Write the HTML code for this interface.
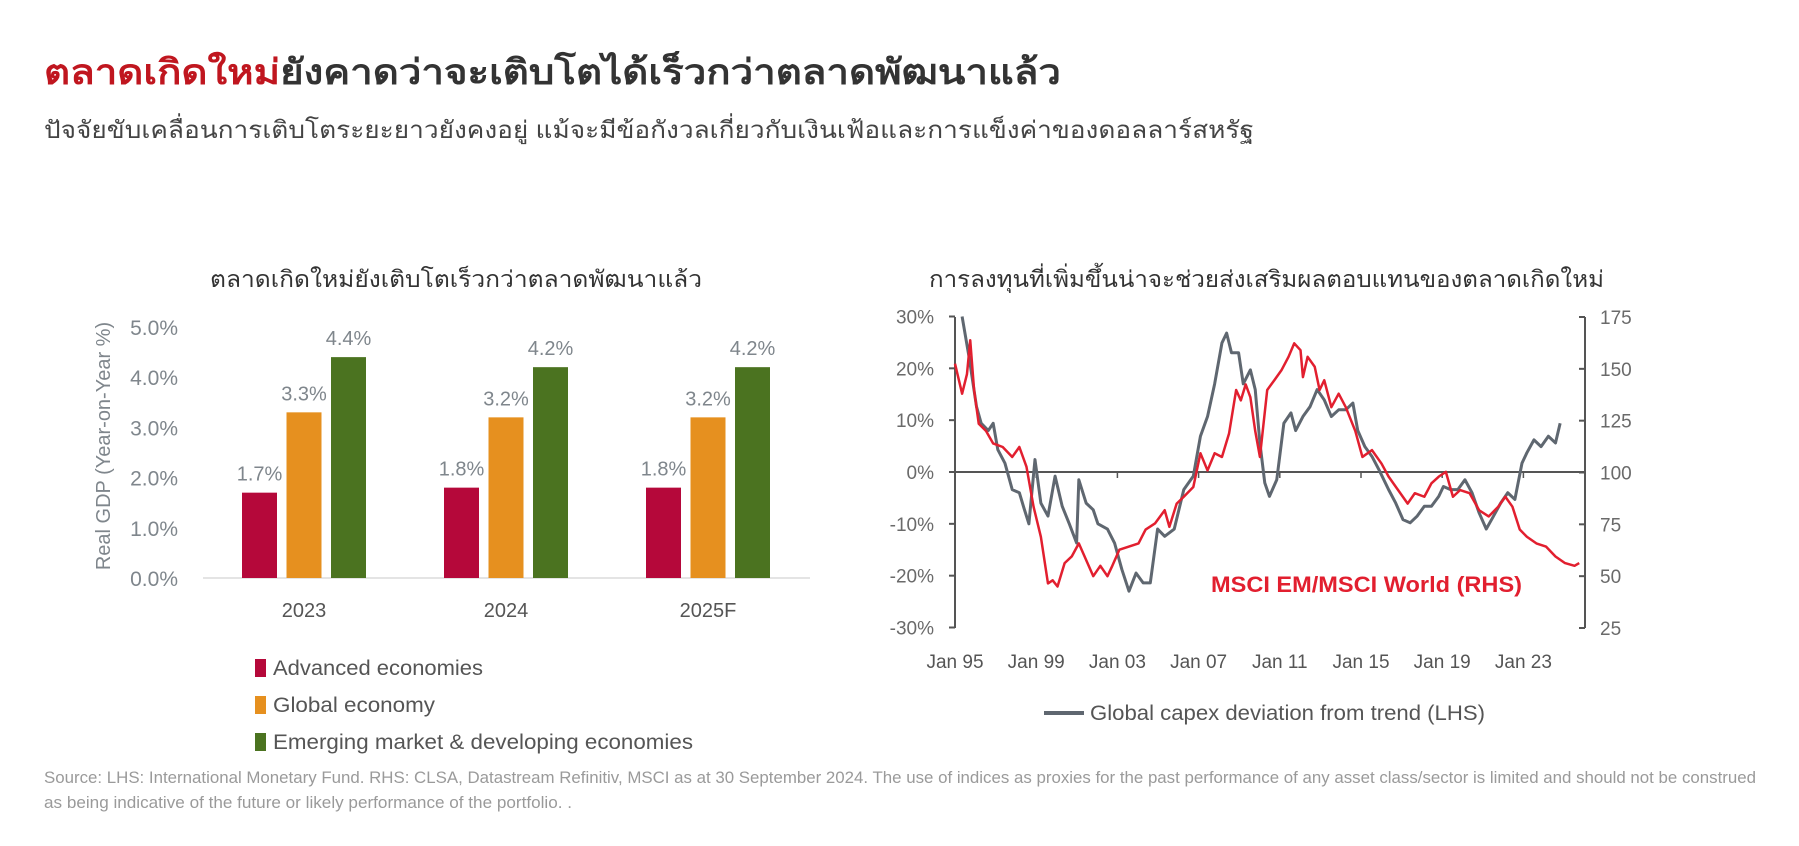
<!DOCTYPE html>
<html><head><meta charset="utf-8"><style>
html,body{margin:0;padding:0;background:#fff;}
svg{display:block;font-family:"Liberation Sans","DejaVu Sans","Noto Sans CJK SC",sans-serif;}
</style></head><body>
<svg id="root" width="1799" height="846" viewBox="0 0 1799 846" xmlns="http://www.w3.org/2000/svg">
<text x="44" y="84" font-size="35" font-weight="bold" fill="#333" textLength="1017" lengthAdjust="spacingAndGlyphs"><tspan fill="#c0161f">ตลาดเกิดใหม่</tspan>ยังคาดว่าจะเติบโตได้เร็วกว่าตลาดพัฒนาแล้ว</text>
<text x="44" y="138" font-size="24" fill="#444" textLength="1210" lengthAdjust="spacingAndGlyphs">ปัจจัยขับเคลื่อนการเติบโตระยะยาวยังคงอยู่ แม้จะมีข้อกังวลเกี่ยวกับเงินเฟ้อและการแข็งค่าของดอลลาร์สหรัฐ</text>
<text x="210" y="287" font-size="23" fill="#333" textLength="492" lengthAdjust="spacingAndGlyphs">ตลาดเกิดใหม่ยังเติบโตเร็วกว่าตลาดพัฒนาแล้ว</text>
<text x="929" y="287" font-size="23" fill="#333" textLength="675" lengthAdjust="spacingAndGlyphs">การลงทุนที่เพิ่มขึ้นน่าจะช่วยส่งเสริมผลตอบแทนของตลาดเกิดใหม่</text>
<g id="bars"></g>
<g id="lines"></g>
<text x="44" y="783" font-size="17" fill="#9a9a9a" textLength="1712" lengthAdjust="spacingAndGlyphs">Source: LHS: International Monetary Fund. RHS: CLSA, Datastream Refinitiv, MSCI as at 30 September 2024. The use of indices as proxies for the past performance of any asset class/sector is limited and should not be construed</text>
<text x="44" y="808" font-size="17" fill="#9a9a9a" textLength="528" lengthAdjust="spacingAndGlyphs">as being indicative of the future or likely performance of the portfolio. .</text>
</svg>
<script>
const NS="http://www.w3.org/2000/svg";
function mk(parent,tag,attrs,text){const e=document.createElementNS(NS,tag);for(const k in attrs)e.setAttribute(k,attrs[k]);if(text!==undefined)e.textContent=text;parent.appendChild(e);return e;}

// ---- Bar chart data
const barCategories=["2023","2024","2025F"];
const advancedValues=[1.7,1.8,1.8];
const globalValues=[3.3,3.2,3.2];
const emergingValues=[4.4,4.2,4.2];
const barTicks=[0,1,2,3,4,5];
const seriesNames=["Advanced economies","Global economy","Emerging market & developing economies"];
const seriesColors=["#b5083a","#e6901f","#4b7320"];
const legendLengths=[210,162,420];

const bg=document.getElementById('bars');
const by=v=>578-v*50.2;
const groupX=i=>304+i*202;
barTicks.forEach(t=>{
 const tl=mk(bg,'text',{x:178,y:by(t)+8,'font-size':21,fill:'#7f868c','text-anchor':'end'},t.toFixed(1)+'%');
 
 
});
const base=mk(bg,'line',{x1:203,x2:810,y1:578,y2:578,stroke:'#e4e4e4','stroke-width':2});


const yt=mk(bg,'text',{x:0,y:0,'font-size':20,fill:'#7f868c','text-anchor':'middle',transform:'translate(110,446) rotate(-90)'},'Real GDP (Year-on-Year %)');


const allSeries=[advancedValues,globalValues,emergingValues];
barCategories.forEach((c,i)=>{
 const cx=groupX(i);
 allSeries.forEach((vals,s)=>{
  const x=cx-62+s*44.5;
  const r=mk(bg,'rect',{x:x,y:by(vals[i]),width:35,height:578-by(vals[i]),fill:seriesColors[s]});
  
  
  const l=mk(bg,'text',{x:x+17.5,y:by(vals[i])-12,'font-size':20,fill:'#7f868c','text-anchor':'middle'},vals[i].toFixed(1)+'%');
  
  
 });
 const xl=mk(bg,'text',{x:cx,y:617,'font-size':20,fill:'#555','text-anchor':'middle'},c);
 
 
});
seriesNames.forEach((n,s)=>{
 const yy=668+s*37;
 const sw=mk(bg,'rect',{x:255,y:yy-9,width:11,height:18,fill:seriesColors[s]});
 
 
 const t=mk(bg,'text',{x:273,y:yy+7,'font-size':21,fill:'#555',textLength:legendLengths[s],lengthAdjust:'spacingAndGlyphs'},n);
 
 
});

// ---- Line chart data
const lhsTicks=[30,20,10,0,-10,-20,-30];
const rhsTicks=[175,150,125,100,75,50,25];
const xTickYears=[1995,1999,2003,2007,2011,2015,2019,2023];
const capexYears=[1995.35,1995.70,1996.06,1996.29,1996.64,1996.88,1997.11,1997.46,1997.82,1998.17,1998.40,1998.64,1998.94,1999.23,1999.58,1999.93,2000.28,2000.63,2000.99,2001.10,2001.46,2001.81,2002.04,2002.51,2002.86,2003.22,2003.57,2003.92,2004.27,2004.62,2004.98,2005.33,2005.80,2006.27,2006.74,2007.09,2007.44,2007.79,2008.15,2008.38,2008.62,2008.97,2009.20,2009.55,2009.79,2010.02,2010.26,2010.49,2010.85,2011.20,2011.55,2011.78,2012.14,2012.49,2012.84,2013.19,2013.54,2013.90,2014.25,2014.60,2014.84,2015.19,2015.54,2015.89,2016.36,2016.71,2017.07,2017.42,2017.77,2018.12,2018.47,2018.83,2019.06,2019.41,2019.77,2020.12,2020.47,2020.82,2021.17,2021.53,2021.88,2022.23,2022.58,2022.93,2023.17,2023.52,2023.87,2024.23,2024.58,2024.81];
const capexValues=[30,22,12.6,9.4,8,9.4,4.3,1.7,-3.4,-4,-7,-10,2.4,-6,-8.5,-0.8,-6.6,-10,-13.7,-1.5,-6,-7.3,-10,-11,-13.7,-18.8,-23,-19.5,-21.4,-21.4,-11,-12.4,-11,-3.4,-0.8,6.9,10.7,17,24.9,26.8,23,23,17,19.7,15.9,5.6,-2.1,-4.7,-1.5,9.4,11.4,8,10.7,12.6,15.9,13.9,10.7,12,12,13.3,8,4.9,3,0.4,-3.4,-6,-9.2,-9.8,-8.5,-6.6,-6.6,-4.7,-2.8,-3.4,-3.4,-1.5,-4,-7.9,-11,-8.5,-6,-4,-5.3,1.7,3.7,6.2,4.9,6.9,5.6,9.4];
const msciYears=[1995.00,1995.35,1995.59,1995.75,1995.94,1996.17,1996.53,1996.88,1997.35,1997.82,1998.17,1998.52,1998.87,1999.23,1999.58,1999.81,2000.05,2000.40,2000.75,2001.10,2001.46,2001.81,2002.16,2002.51,2002.75,2003.10,2003.57,2004.04,2004.39,2004.86,2005.33,2005.56,2005.92,2006.27,2006.74,2007.09,2007.44,2007.79,2008.15,2008.50,2008.85,2009.08,2009.32,2009.55,2009.79,2010.02,2010.38,2010.73,2011.08,2011.43,2011.71,2012.02,2012.14,2012.37,2012.72,2012.96,2013.19,2013.54,2013.90,2014.25,2014.72,2015.07,2015.54,2016.01,2016.36,2016.83,2017.30,2017.65,2018.12,2018.47,2018.83,2019.18,2019.53,2019.88,2020.35,2020.82,2021.29,2021.76,2022.11,2022.46,2022.82,2023.17,2023.64,2024.11,2024.58,2025.05,2025.52,2025.75];
const msciValues=[152.5,138,147.5,163.8,139.8,123.5,120,114,112.3,107.5,112.3,102.8,83.5,69,46.5,48,45,56.3,59.5,65.8,57.8,50,55,50,55,62.8,64.3,65.8,72.5,75.5,81.8,73.8,85,88.3,93,109.3,101,109.3,107.5,118.8,139.8,134.8,142.5,136.3,120,107.5,139.8,144.5,149.3,155.8,162.3,159,146,155.8,151,139.8,144.5,131.5,138,131.5,120,107.5,110.8,104.3,98,91.5,85,90,88.3,94.8,98,100.3,88.3,91.5,90,81.8,78.8,83.5,88.3,83.5,72.5,69,65.8,64.3,59.5,56.3,55,56.3];

const lg=document.getElementById('lines');
const xS=y=>955+(y-1995)*20.3;
const yL=v=>472-v*311/60;
const yR=r=>628-(r-25)*311/150;
const ax=mk(lg,'line',{x1:955,x2:955,y1:317,y2:628,stroke:'#555','stroke-width':2});


const rax=mk(lg,'line',{x1:1585,x2:1585,y1:317,y2:628,stroke:'#555','stroke-width':2});


lhsTicks.forEach(t=>{
 mk(lg,'line',{x1:949,x2:955,y1:yL(t),y2:yL(t),stroke:'#555','stroke-width':2});
 const l=mk(lg,'text',{x:934,y:yL(t)+7,'font-size':19,fill:'#6a6a6a','text-anchor':'end'},t+'%');
 
 
});
rhsTicks.forEach(t=>{
 mk(lg,'line',{x1:1579,x2:1585,y1:yR(t),y2:yR(t),stroke:'#555','stroke-width':2});
 const l=mk(lg,'text',{x:1600,y:yR(t)+7,'font-size':19,fill:'#6a6a6a'},String(t));
 
 
});
const zl=mk(lg,'line',{x1:955,x2:1585,y1:yL(0),y2:yL(0),stroke:'#555','stroke-width':2});


xTickYears.forEach(y=>{
 mk(lg,'line',{x1:xS(y),x2:xS(y),y1:yL(0),y2:yL(0)+6,stroke:'#555','stroke-width':1.5});
 const l=mk(lg,'text',{x:xS(y),y:668,'font-size':19,fill:'#555','text-anchor':'middle'},'Jan '+String(y).slice(2));
 
 
});
const gp=mk(lg,'polyline',{points:capexYears.map((y,i)=>xS(y)+','+yL(capexValues[i])).join(' '),fill:'none',stroke:'#5f6770','stroke-width':3,'stroke-linejoin':'round'});


const rp=mk(lg,'polyline',{points:msciYears.map((y,i)=>xS(y)+','+yR(msciValues[i])).join(' '),fill:'none',stroke:'#e21f2f','stroke-width':2.5,'stroke-linejoin':'round'});


const ml=mk(lg,'text',{x:1211,y:592,'font-size':22,'font-weight':'bold',fill:'#e21f2f',textLength:311,lengthAdjust:'spacingAndGlyphs'},'MSCI EM/MSCI World (RHS)');


const ll=mk(lg,'line',{x1:1044,x2:1084,y1:713,y2:713,stroke:'#5f6770','stroke-width':4});


const lt=mk(lg,'text',{x:1090,y:720,'font-size':21,fill:'#555',textLength:395,lengthAdjust:'spacingAndGlyphs'},'Global capex deviation from trend (LHS)');


</script>
</body></html>
